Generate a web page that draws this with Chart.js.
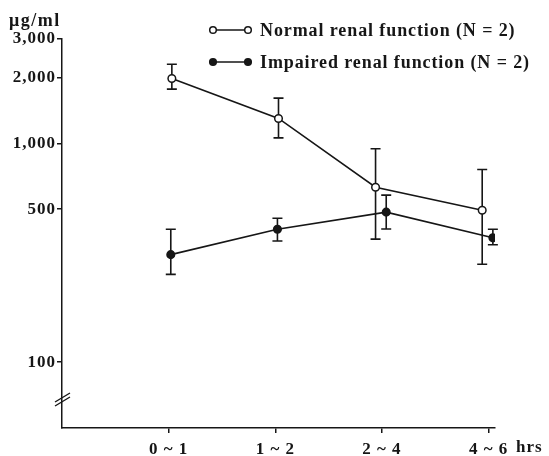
<!DOCTYPE html>
<html>
<head>
<meta charset="utf-8">
<script src="https://cdn.jsdelivr.net/npm/chart.js@4"></script>
<style>
  html, body { margin: 0; padding: 0; background: #fff; }
  #wrap { width: 549px; height: 456px; }
</style>
</head>
<body>
<div id="wrap"><canvas id="renalChart"></canvas></div>
<script>
const periods = ["0 ~ 1", "1 ~ 2", "2 ~ 4", "4 ~ 6"];
const yTicks = [100, 500, 1000, 2000, 3000];

const normalMean = [1980, 1300, 630, 495];
const normalHigh = [2300, 1610, 945, 760];
const normalLow = [1770, 1060, 365, 280];

const impairedMean = [310, 405, 485, 370];
const impairedHigh = [405, 455, 580, 405];
const impairedLow = [252, 358, 406, 344];

const ink = "#161616";
const serif = "'Liberation Serif', 'Times New Roman', serif";

// where the bars would overlap the open circles go left, filled ones right
const shiftNormal = (i) => (i < 2 ? 0.03 : -0.06);
const shiftImpaired = (i) => (i < 2 ? 0.02 : 0.04);

// the scanned type is set a little wide
const spacing = {
  id: "spacing",
  beforeDraw(chart) {
    chart.ctx.letterSpacing = "1px";
  },
};

const errorBars = {
  id: "errorBars",
  beforeDatasetsDraw(chart) {
    const { ctx, scales } = chart;
    ctx.save();
    ctx.strokeStyle = ink;
    ctx.lineWidth = 1.6;
    chart.data.datasets.forEach((ds) => {
      ds.data.forEach((p, i) => {
        const x = scales.x.getPixelForValue(p.x);
        const top = scales.y.getPixelForValue(ds.high[i]);
        const bot = scales.y.getPixelForValue(ds.low[i]);
        ctx.beginPath();
        ctx.moveTo(x, top);
        ctx.lineTo(x, bot);
        ctx.moveTo(x - 5, top);
        ctx.lineTo(x + 5, top);
        ctx.moveTo(x - 5, bot);
        ctx.lineTo(x + 5, bot);
        ctx.stroke();
      });
    });
    ctx.restore();
  },
};

const extras = {
  id: "extras",
  afterDraw(chart) {
    const { ctx, chartArea, scales } = chart;
    ctx.save();
    ctx.fillStyle = ink;
    ctx.strokeStyle = ink;
    ctx.textBaseline = "middle";
    ctx.textAlign = "left";

    // unit and axis name
    ctx.font = "bold 18px " + serif;
    ctx.letterSpacing = "1.5px";
    ctx.fillText("\u03bcg/ml", 9, 21);
    ctx.font = "bold 17px " + serif;
    ctx.letterSpacing = "1px";
    ctx.fillText("hrs", 516, 448);

    // legend
    ctx.font = "bold 18px " + serif;
    ctx.letterSpacing = "0.9px";
    const rows = [
      { label: "Normal renal function (N = 2)", fill: "#fff", y: 30 },
      { label: "Impaired renal function (N = 2)", fill: ink, y: 62 },
    ];
    rows.forEach((r) => {
      ctx.lineWidth = 1.5;
      ctx.beginPath();
      ctx.moveTo(213, r.y);
      ctx.lineTo(248, r.y);
      ctx.stroke();
      [213, 248].forEach((cx) => {
        ctx.beginPath();
        ctx.arc(cx, r.y, 3.3, 0, Math.PI * 2);
        ctx.fillStyle = r.fill;
        ctx.fill();
        ctx.stroke();
      });
      ctx.fillStyle = ink;
      ctx.fillText(r.label, 260, r.y + 1);
    });

    // axis break on the y axis
    const bx = chartArea.left;
    const by = scales.y.bottom - 28;
    ctx.lineWidth = 1.4;
    ctx.beginPath();
    ctx.moveTo(bx - 7, by + 6);
    ctx.lineTo(bx + 8, by - 3);
    ctx.moveTo(bx - 7, by + 2);
    ctx.lineTo(bx + 8, by - 7);
    ctx.stroke();
    ctx.restore();
  },
};

const ctx1 = document.getElementById("renalChart").getContext("2d");
new Chart(ctx1, {
  type: "line",
  data: {
    datasets: [
      {
        label: "Normal renal function (N = 2)",
        data: normalMean.map((v, i) => ({ x: i + shiftNormal(i), y: v })),
        high: normalHigh,
        low: normalLow,
        borderColor: ink,
        borderWidth: 1.6,
        pointRadius: 3.8,
        pointBorderWidth: 1.5,
        pointBorderColor: ink,
        pointBackgroundColor: "#fff",
        tension: 0,
      },
      {
        label: "Impaired renal function (N = 2)",
        data: impairedMean.map((v, i) => ({ x: i + shiftImpaired(i), y: v })),
        high: impairedHigh,
        low: impairedLow,
        borderColor: ink,
        borderWidth: 1.6,
        pointRadius: 3.8,
        pointBorderWidth: 1.5,
        pointBorderColor: ink,
        pointBackgroundColor: ink,
        tension: 0,
      },
    ],
  },
  options: {
    responsive: true,
    maintainAspectRatio: false,
    animation: false,
    layout: { padding: { top: 39, right: 54, left: 0, bottom: 0 } },
    plugins: {
      legend: { display: false },
      tooltip: { enabled: false },
    },
    scales: {
      x: {
        type: "linear",
        min: -1,
        max: 3.06,
        afterBuildTicks: (scale) => {
          scale.ticks = periods.map((_, i) => ({ value: i }));
        },
        afterFit: (scale) => {
          scale.height = 28;
        },
        ticks: {
          callback: (value, index) => periods[index],
          color: ink,
          font: { family: serif, size: 17, weight: "bold" },
          padding: 6,
          maxRotation: 0,
          autoSkip: false,
        },
        grid: {
          drawOnChartArea: false,
          color: ink,
          lineWidth: 1.5,
          tickLength: 5,
        },
        border: { color: ink, width: 1.5 },
      },
      y: {
        type: "logarithmic",
        min: 50,
        max: 3000,
        afterBuildTicks: (scale) => {
          scale.ticks = yTicks.map((v) => ({ value: v }));
        },
        afterFit: (scale) => {
          scale.width = 62;
        },
        ticks: {
          callback: (value) => value.toLocaleString("en-US"),
          color: ink,
          font: { family: serif, size: 17, weight: "bold" },
          padding: 1,
        },
        grid: {
          drawOnChartArea: false,
          color: ink,
          lineWidth: 1.5,
          tickLength: 5,
        },
        border: { color: ink, width: 1.5 },
      },
    },
  },
  plugins: [spacing, errorBars, extras],
});
</script>
</body>
</html>
